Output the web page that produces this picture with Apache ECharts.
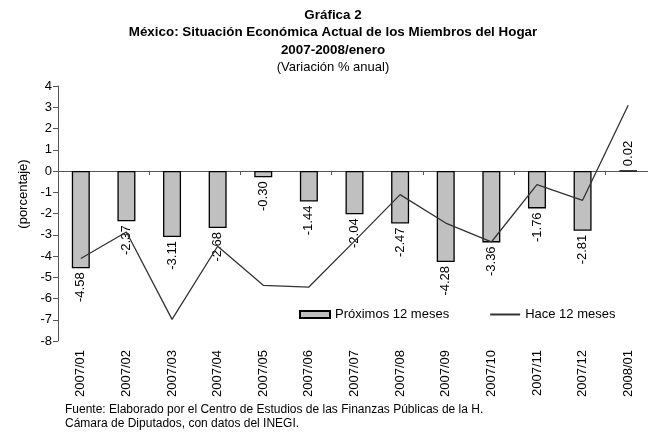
<!DOCTYPE html>
<html>
<head>
<meta charset="utf-8">
<script src="https://cdn.jsdelivr.net/npm/echarts@6/dist/echarts.min.js"></script>
<style>html,body{margin:0;padding:0;background:#fff}#c{width:648px;height:432px}</style>
</head>
<body>
<div id="c"></div>
<script>
var categories = ['2007/01','2007/02','2007/03','2007/04','2007/05','2007/06','2007/07','2007/08','2007/09','2007/10','2007/11','2007/12','2008/01'];
var proximos = [-4.58,-2.37,-3.11,-2.68,-0.30,-1.44,-2.04,-2.47,-4.28,-3.36,-1.76,-2.81,0.02];
var hace = [-4.12,-2.87,-6.98,-3.54,-5.38,-5.46,-3.30,-1.11,-2.45,-3.34,-0.64,-1.38,3.09];
var yTicks = [-8,-7,-6,-5,-4,-3,-2,-1,0,1,2,3,4];

var FONT = 'Liberation Sans, Arial, sans-serif';
var chart = echarts.init(document.getElementById('c'), null, {renderer:'canvas'});

var barData = proximos.map(function(v){
  return {
    value: v,
    label: v < 0
      ? {position:'bottom', align:'right', verticalAlign:'middle'}
      : {position:'top', align:'left', verticalAlign:'middle'}
  };
});

var titleBold = {fontFamily:FONT,fontSize:13.4,fontWeight:'bold',color:'#000',lineHeight:14};

chart.setOption({
  animation: false,
  backgroundColor: '#fff',
  textStyle: {fontFamily: FONT},
  title: [
    {text:'Gráfica 2', left:333, top:8, padding:0, textAlign:'center', textStyle:titleBold},
    {text:'México: Situación Económica Actual de los Miembros del Hogar', left:333, top:25.5, padding:0, textAlign:'center', textStyle:titleBold},
    {text:'2007-2008/enero', left:333, top:43, padding:0, textAlign:'center', textStyle:titleBold},
    {text:'(Variación % anual)', left:333, top:60, padding:0, textAlign:'center', textStyle:{fontFamily:FONT,fontSize:13,fontWeight:'normal',color:'#000',lineHeight:14}},
    {text:'Fuente: Elaborado por el Centro de Estudios de las Finanzas Públicas de la H.\nCámara de Diputados, con datos del INEGI.', left:65, top:403, padding:0, textStyle:{fontFamily:FONT,fontSize:12,fontWeight:'normal',color:'#000',lineHeight:14}}
  ],
  graphic: [
    {type:'text', x:23, y:194, rotation: Math.PI/2, style:{text:'(porcentaje)', font:'13px ' + FONT, fill:'#000', align:'center', verticalAlign:'middle'}}
  ],
  legend: {
    left: 299, top: 308, padding: 0,
    itemWidth: 30, itemHeight: 7, itemGap: 40,
    textStyle: {fontFamily:FONT, fontSize:13, color:'#000'},
    data: [
      {name:'Próximos 12 meses', icon:'rect'},
      {name:'Hace 12 meses', itemStyle:{opacity:0}}
    ]
  },
  grid: {left:58, top:86, right:-3, bottom:91, containLabel:false, outerBoundsMode:'none'},
  xAxis: [
    {type:'category', data:categories, boundaryGap:true,
     axisLine:{onZero:true, lineStyle:{color:'#555', width:1}},
     axisTick:{show:true, length:4, lineStyle:{color:'#555'}},
     axisLabel:{show:false}, splitLine:{show:false}},
    {type:'category', data:categories, boundaryGap:true, position:'bottom',
     axisLine:{show:false, onZero:false}, axisTick:{show:false},
     axisLabel:{show:true, rotate:90, margin:9, interval:0, fontFamily:FONT, fontSize:13, color:'#000'},
     splitLine:{show:false}}
  ],
  yAxis: {
    type:'value', min:yTicks[0], max:yTicks[yTicks.length-1], interval:1,
    axisLine:{show:true, lineStyle:{color:'#555', width:1}},
    axisTick:{show:true, length:5, lineStyle:{color:'#555'}},
    axisLabel:{margin:6, fontFamily:FONT, fontSize:13, color:'#000'},
    splitLine:{show:false}
  },
  series: [
    {name:'Próximos 12 meses', type:'bar', xAxisIndex:0, data:barData, barWidth:18,
     itemStyle:{color:'#C0C0C0', borderColor:'#000', borderWidth:1.3},
     label:{show:true, rotate:90, distance:4, fontFamily:FONT, fontSize:13, color:'#000',
            formatter:function(p){return Number(p.value).toFixed(2);}},
     z:2},
    {name:'Hace 12 meses', type:'line', xAxisIndex:0, data:hace, symbol:'none', showSymbol:false,
     lineStyle:{color:'#333', width:1.3}, itemStyle:{color:'#333'}, z:3}
  ]
});
</script>
</body>
</html>
